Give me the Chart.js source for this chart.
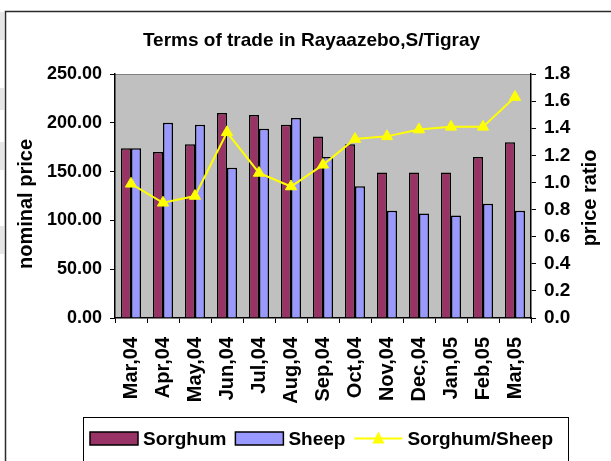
<!DOCTYPE html>
<html>
<head>
<meta charset="utf-8">
<script src="https://cdn.jsdelivr.net/npm/chart.js@4.4.1/dist/chart.umd.min.js"></script>
<style>
  html, body { margin: 0; padding: 0; background: #fff; }
  #wrap { width: 611px; height: 461px; position: relative; }
</style>
</head>
<body>
<div id="wrap"><canvas id="c" width="611" height="461"></canvas></div>
<script>
// ---- data ----
const months  = ['Mar,04', 'Apr,04', 'May,04', 'Jun,04', 'Jul,04', 'Aug,04', 'Sep,04',
                 'Oct,04', 'Nov,04', 'Dec,04', 'Jan,05', 'Feb,05', 'Mar,05'];
const sorghum = [174, 170, 178, 210, 208, 198, 186, 178, 149, 149, 149, 165, 180];
const sheep   = [174, 200, 198, 154, 194, 205, 165, 135, 110, 107, 105, 117, 110];
const ratio   = [0.99, 0.85, 0.90, 1.37, 1.07, 0.97, 1.13, 1.32, 1.34, 1.39, 1.41, 1.41, 1.63];
const priceTicks = { min: 0, max: 250, step: 50 };
const ratioTicks = { min: 0, max: 1.8, step: 0.2 };

const FONT = "'Liberation Sans', Arial, sans-serif";
const bold = size => ({ family: FONT, size, weight: 'bold' });

// background, frame, titles and the boxed legend
const frame = {
  id: 'frame',
  beforeDraw(chart) {
    const { ctx, chartArea: a } = chart;
    ctx.save();
    ctx.fillStyle = '#fff';
    ctx.fillRect(0, 0, chart.width, chart.height);
    // faint grey strips at the left edge (page behind the chart)
    ctx.fillStyle = '#e6e6e6';
    [[12, 28], [88, 22], [142, 28], [226, 28]].forEach(([y, h]) => ctx.fillRect(0, y, 4, h));
    ctx.fillStyle = '#C0C0C0';
    ctx.fillRect(a.left, a.top, a.right - a.left, a.bottom - a.top);
    ctx.strokeStyle = '#808080';
    ctx.lineWidth = 1;
    ctx.beginPath();
    ctx.moveTo(a.left, a.top + 0.5); ctx.lineTo(a.right, a.top + 0.5);
    ctx.stroke();
    ctx.restore();
  },
  afterDraw(chart) {
    const { ctx } = chart;
    ctx.save();
    // outer chart border (right/bottom run off the picture)
    ctx.strokeStyle = '#2b2b2b';
    ctx.lineWidth = 1.5;
    ctx.beginPath();
    ctx.moveTo(5.5, chart.height); ctx.lineTo(5.5, 11.5); ctx.lineTo(chart.width, 11.5);
    ctx.stroke();

    ctx.fillStyle = '#000';
    ctx.textBaseline = 'alphabetic';
    ctx.textAlign = 'center';
    ctx.font = `bold 19px ${FONT}`;
    ctx.fillText('Terms of trade in Rayaazebo,S/Tigray', 311.5, 46);

    // axis titles, both reading bottom to top
    ctx.font = `bold 20px ${FONT}`;
    ctx.textBaseline = 'middle';
    [['nominal price', 26, 204], ['price ratio', 590, 198]].forEach(([t, x, y]) => {
      ctx.save();
      ctx.translate(x, y);
      ctx.rotate(-Math.PI / 2);
      ctx.fillText(t, 0, 0);
      ctx.restore();
    });

    // legend
    ctx.strokeStyle = '#000';
    ctx.lineWidth = 1;
    ctx.strokeRect(83.5, 417.5, 485, 60);
    const ds = chart.data.datasets;
    const order = [ds[1], ds[2], ds[0]];
    const cy = 438.5;
    let x = 90;
    ctx.font = `bold 19px ${FONT}`;
    ctx.textAlign = 'left';
    order.forEach(d => {
      if (d.type === 'bar') {
        ctx.fillStyle = d.backgroundColor;
        ctx.fillRect(x, cy - 6.5, 48, 13);
        ctx.lineWidth = 1.5;
        ctx.strokeStyle = '#000';
        ctx.strokeRect(x, cy - 6.5, 48, 13);
      } else {
        ctx.strokeStyle = d.borderColor;
        ctx.lineWidth = 2;
        ctx.beginPath();
        ctx.moveTo(x, cy); ctx.lineTo(x + 48, cy);
        ctx.stroke();
        ctx.fillStyle = d.pointBackgroundColor;
        ctx.beginPath();
        ctx.moveTo(x + 24, cy - 7); ctx.lineTo(x + 30, cy + 5); ctx.lineTo(x + 18, cy + 5);
        ctx.closePath();
        ctx.fill();
      }
      ctx.fillStyle = '#000';
      ctx.fillText(d.label, x + 53, cy + 1);
      x += 53 + ctx.measureText(d.label).width + 9;
    });
    ctx.restore();
  }
};

new Chart(document.getElementById('c'), {
  data: {
    labels: months,
    datasets: [
      { type: 'line', label: 'Sorghum/Sheep', data: ratio, yAxisID: 'y1',
        borderColor: '#FFFF00', borderWidth: 2, tension: 0,
        pointStyle: 'triangle', pointRadius: 6.5,
        pointBackgroundColor: '#FFFF00', pointBorderColor: '#FFFF00', pointBorderWidth: 1, order: 0 },
      { type: 'bar', label: 'Sorghum', data: sorghum, yAxisID: 'y',
        backgroundColor: '#993366', borderColor: '#000', borderWidth: 1.5,
        categoryPercentage: 0.625, barPercentage: 1, order: 1 },
      { type: 'bar', label: 'Sheep', data: sheep, yAxisID: 'y',
        backgroundColor: '#9999FF', borderColor: '#000', borderWidth: 1.5,
        categoryPercentage: 0.625, barPercentage: 1, order: 1 }
    ]
  },
  options: {
    responsive: false,
    animation: false,
    layout: { padding: { left: 0, right: 0, top: 74, bottom: 53 } },
    plugins: { legend: { display: false }, tooltip: { enabled: false }, title: { display: false } },
    scales: {
      x: {
        grid: { offset: true, drawOnChartArea: false, tickLength: 5, color: '#000' },
        border: { color: '#000', width: 1.5 },
        ticks: { autoSkip: false, minRotation: 90, maxRotation: 90, padding: 14, color: '#000', font: bold(20) },
        afterFit: s => { s.height = 90; }
      },
      y: {
        position: 'left', min: priceTicks.min, max: priceTicks.max,
        grid: { drawOnChartArea: false, tickLength: 5, color: '#000' },
        border: { color: '#000', width: 1.5 },
        ticks: { stepSize: priceTicks.step, padding: 8, color: '#000', font: bold(18), callback: v => v.toFixed(2) },
        afterFit: s => { s.width = 115; }
      },
      y1: {
        position: 'right', min: ratioTicks.min, max: ratioTicks.max,
        grid: { drawOnChartArea: false, tickLength: 5, color: '#000' },
        border: { color: '#000', width: 1.5 },
        ticks: { stepSize: ratioTicks.step, padding: 8, color: '#000', font: bold(19), callback: v => v.toFixed(1) },
        afterFit: s => { s.width = 80; }
      }
    }
  },
  plugins: [frame]
});
</script>
</body>
</html>
